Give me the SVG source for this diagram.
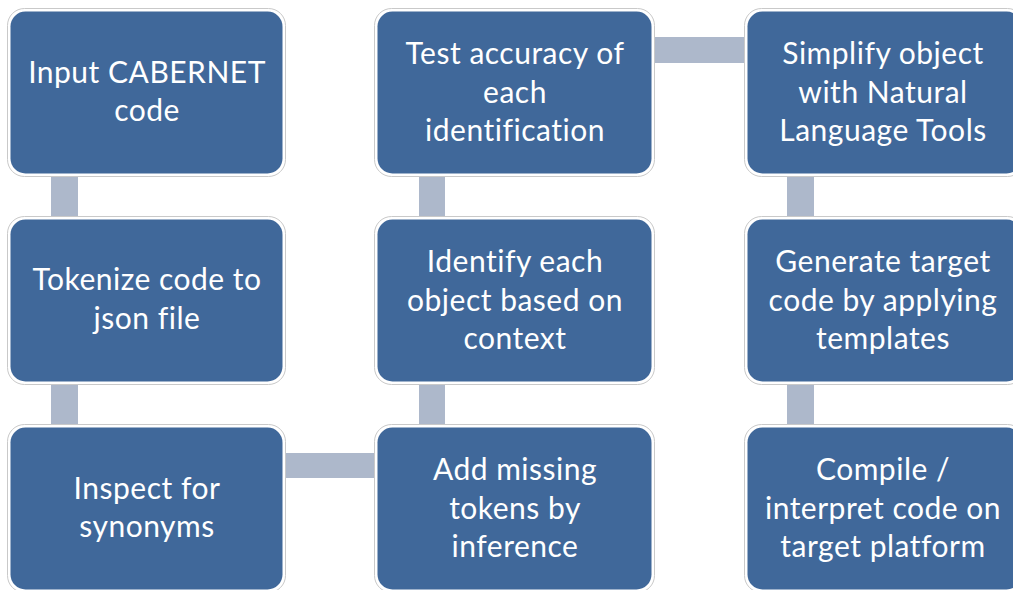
<svg xmlns="http://www.w3.org/2000/svg" width="1013" height="590" viewBox="0 0 1013 590">
  <style>
    .frame { fill: #ffffff; stroke: #c9c9c9; stroke-width: 1; }
    .box { fill: #40689a; }
    .link { fill: #adb8cb; }
    .label { fill: #ffffff; font-family: Lato, "Open Sans", "Liberation Sans", sans-serif; font-size: 30px; letter-spacing: 0.5px; font-variant-ligatures: none; text-anchor: middle; }
  </style>
  <rect width="1013" height="590" fill="#ffffff"/>

  <!-- connectors -->
  <g id="connectors">
    <rect class="link" x="51" y="175" width="27" height="46"/>
    <rect class="link" x="51" y="383" width="27" height="46"/>
    <rect class="link" x="284" y="453" width="95" height="25"/>
    <rect class="link" x="419" y="383" width="26" height="46"/>
    <rect class="link" x="419" y="175" width="26" height="46"/>
    <rect class="link" x="653" y="37" width="95" height="26"/>
    <rect class="link" x="787" y="175" width="27" height="46"/>
    <rect class="link" x="787" y="383" width="27" height="46"/>
  </g>

  <!-- column 1 -->
  <g id="input">
    <rect class="frame" x="7.5" y="8.5" width="278" height="168" rx="17"/>
    <rect class="box" x="10.5" y="11.5" width="272" height="162" rx="15"/>
    <text class="label" x="147" y="83">Input CABERNET</text>
    <text class="label" x="147" y="121">code</text>
  </g>
  <g id="tokenize">
    <rect class="frame" x="7.5" y="216.5" width="278" height="168" rx="17"/>
    <rect class="box" x="10.5" y="219.5" width="272" height="162" rx="15"/>
    <text class="label" x="147" y="290">Tokenize code to</text>
    <text class="label" x="147" y="329">json file</text>
  </g>
  <g id="inspect">
    <rect class="frame" x="7.5" y="424.5" width="278" height="168" rx="17"/>
    <rect class="box" x="10.5" y="427.5" width="272" height="162" rx="15"/>
    <text class="label" x="147" y="499">Inspect for</text>
    <text class="label" x="147" y="537">synonyms</text>
  </g>

  <!-- column 2 -->
  <g id="test-accuracy">
    <rect class="frame" x="374.5" y="8.5" width="280" height="168" rx="17"/>
    <rect class="box" x="377.5" y="11.5" width="274" height="162" rx="15"/>
    <text class="label" x="515" y="64">Test accuracy of</text>
    <text class="label" x="515" y="103">each</text>
    <text class="label" x="515" y="141">identification</text>
  </g>
  <g id="identify">
    <rect class="frame" x="374.5" y="216.5" width="280" height="168" rx="17"/>
    <rect class="box" x="377.5" y="219.5" width="274" height="162" rx="15"/>
    <text class="label" x="515" y="272">Identify each</text>
    <text class="label" x="515" y="311">object based on</text>
    <text class="label" x="515" y="349">context</text>
  </g>
  <g id="add-missing">
    <rect class="frame" x="374.5" y="424.5" width="280" height="168" rx="17"/>
    <rect class="box" x="377.5" y="427.5" width="274" height="162" rx="15"/>
    <text class="label" x="515" y="480">Add missing</text>
    <text class="label" x="515" y="519">tokens by</text>
    <text class="label" x="515" y="557">inference</text>
  </g>

  <!-- column 3 -->
  <g id="simplify">
    <rect class="frame" x="744.5" y="8.5" width="280" height="168" rx="17"/>
    <rect class="box" x="747.5" y="11.5" width="274" height="162" rx="15"/>
    <text class="label" x="883" y="64">Simplify object</text>
    <text class="label" x="883" y="103">with Natural</text>
    <text class="label" x="883" y="141">Language Tools</text>
  </g>
  <g id="generate">
    <rect class="frame" x="744.5" y="216.5" width="280" height="168" rx="17"/>
    <rect class="box" x="747.5" y="219.5" width="274" height="162" rx="15"/>
    <text class="label" x="883" y="272">Generate target</text>
    <text class="label" x="883" y="311">code by applying</text>
    <text class="label" x="883" y="349">templates</text>
  </g>
  <g id="compile">
    <rect class="frame" x="744.5" y="424.5" width="280" height="168" rx="17"/>
    <rect class="box" x="747.5" y="427.5" width="274" height="162" rx="15"/>
    <text class="label" x="883" y="480">Compile /</text>
    <text class="label" x="883" y="519">interpret code on</text>
    <text class="label" x="883" y="557">target platform</text>
  </g>
</svg>
